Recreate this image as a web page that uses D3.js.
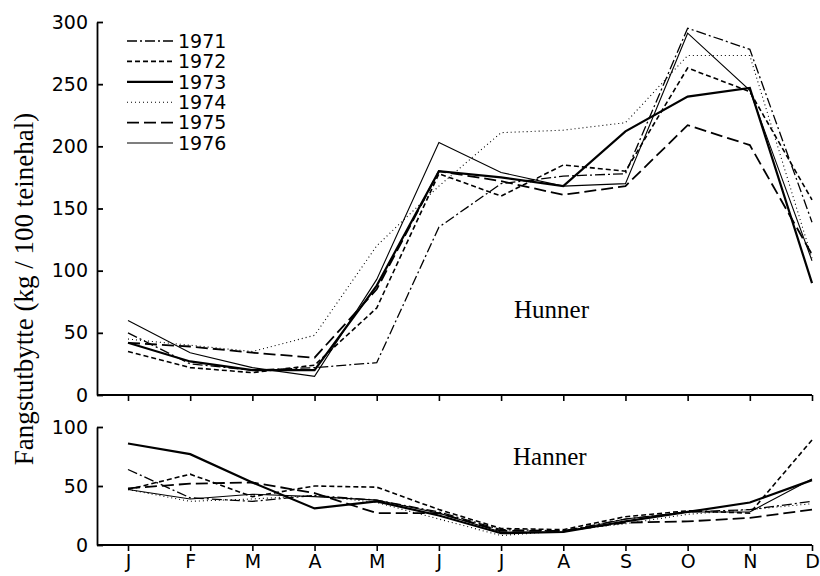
<!DOCTYPE html>
<html>
<head>
<meta charset="utf-8">
<script src="https://cdn.jsdelivr.net/npm/d3@7"></script>
<style>
  body { margin: 0; background: #fff; }
  svg { display: block; }
  .tick text { font-family: 'DejaVu Sans', sans-serif; font-size: 19px; fill: #000; }
</style>
</head>
<body>
<div id="chart"></div>
<script>
const w = 820,
      h = 576;

// months (index used for the scale, labels for the ticks)
const months = ['J', 'F', 'M', 'A', 'M', 'J', 'J', 'A', 'S', 'O', 'N', 'D'];
const years = ['1971', '1972', '1973', '1974', '1975', '1976'];

// Hunner (females), kg / 100 pots
const hunner1971 = [50, 25, 20, 22, 26, 135, 170, 176, 178, 295, 278, 139];
const hunner1972 = [35, 22, 18, 24, 70, 178, 160, 185, 180, 263, 244, 157];
const hunner1973 = [42, 27, 20, 20, 88, 180, 175, 168, 212, 240, 247, 90];
const hunner1974 = [45, 40, 35, 48, 120, 168, 211, 213, 219, 273, 273, 110];
const hunner1975 = [42, 39, 34, 30, 85, 180, 172, 161, 168, 217, 201, 113];
const hunner1976 = [60, 34, 22, 15, 93, 203, 179, 168, 170, 291, 245, 108];

// Hanner (males)
const hanner1971 = [64, 40, 37, 42, 38, 28, 13, 12, 22, 28, 30, 37];
const hanner1972 = [47, 60, 41, 50, 49, 30, 14, 13, 24, 29, 27, 89];
const hanner1973 = [86, 77, 53, 31, 37, 25, 10, 11, 20, 28, 36, 55];
const hanner1974 = [47, 37, 39, 42, 36, 22, 8, 12, 18, 26, 30, 35];
const hanner1975 = [48, 52, 53, 44, 27, 27, 12, 12, 19, 20, 23, 30];
const hanner1976 = [47, 39, 43, 41, 38, 27, 11, 11, 22, 28, 28, 56];

const topTicks = [0, 50, 100, 150, 200, 250, 300];
const bottomTicks = [0, 50, 100];

// line styles per year
const styles = [
  { width: 1.3, dash: '10,3,2,3' },
  { width: 1.6, dash: '5,3' },
  { width: 2.2, dash: null },
  { width: 1.1, dash: '1,3' },
  { width: 1.8, dash: '12,5' },
  { width: 1.1, dash: null }
];

const hunner = [hunner1971, hunner1972, hunner1973, hunner1974, hunner1975, hunner1976];
const hanner = [hanner1971, hanner1972, hanner1973, hanner1974, hanner1975, hanner1976];

const svg = d3.select('#chart')
  .append('svg')
  .attr('width', w)
  .attr('height', h);

const axisX = 97;

const x = d3.scalePoint()
  .domain(d3.range(12))
  .range([128, 812]);

const yTop = d3.scaleLinear().domain([0, 300]).range([395, 22]);
const yBot = d3.scaleLinear().domain([0, 100]).range([545, 427]);

function drawPanel(yScale, ticks, series, showLabels) {
  const yAxis = d3.axisLeft(yScale)
    .tickValues(ticks)
    .tickSize(-6)
    .tickSizeOuter(0)
    .tickPadding(9);

  const gy = svg.append('g')
    .attr('transform', `translate(${axisX}, 0)`)
    .call(yAxis);
  gy.selectAll('path, line').attr('stroke', '#000').attr('stroke-width', 1.8);

  const xAxis = d3.axisBottom(x)
    .tickSize(6)
    .tickSizeOuter(0)
    .tickPadding(4)
    .tickFormat(i => showLabels ? months[i] : '');

  const gx = svg.append('g')
    .attr('transform', `translate(0, ${yScale(0)})`)
    .call(xAxis);
  gx.select('.domain').remove();
  gx.selectAll('line').attr('stroke', '#000').attr('stroke-width', 1.6);
  gx.append('line')
    .attr('x1', axisX)
    .attr('x2', x(11))
    .attr('stroke', '#000')
    .attr('stroke-width', 1.8);

  const line = d3.line()
    .x((d, i) => x(i))
    .y(d => yScale(d));

  svg.append('g')
    .selectAll('path')
    .data(series)
    .enter()
    .append('path')
    .attr('d', line)
    .attr('fill', 'none')
    .attr('stroke', '#000')
    .attr('stroke-width', (d, i) => styles[i].width)
    .attr('stroke-dasharray', (d, i) => styles[i].dash);
}

drawPanel(yTop, topTicks, hunner, false);
drawPanel(yBot, bottomTicks, hanner, true);

// legend
const legend = svg.append('g')
  .selectAll('g')
  .data(years)
  .enter()
  .append('g')
  .attr('transform', (d, i) => `translate(127, ${41 + i * 20.4})`);

legend.append('line')
  .attr('x1', 0)
  .attr('x2', 46)
  .attr('stroke', '#000')
  .attr('stroke-width', (d, i) => styles[i].width)
  .attr('stroke-dasharray', (d, i) => styles[i].dash);

legend.append('text')
  .attr('x', 51)
  .attr('dy', '0.36em')
  .style('font-family', "'DejaVu Sans', sans-serif")
  .style('font-size', '19px')
  .text(d => d);

// panel labels
svg.append('text')
  .attr('x', 514)
  .attr('y', 318)
  .style('font-family', "'Liberation Serif', serif")
  .style('font-size', '25px')
  .text('Hunner');

svg.append('text')
  .attr('x', 513)
  .attr('y', 465)
  .style('font-family', "'Liberation Serif', serif")
  .style('font-size', '25px')
  .text('Hanner');

svg.append('text')
  .attr('transform', 'translate(33, 289) rotate(-90)')
  .attr('text-anchor', 'middle')
  .style('font-family', "'Liberation Serif', serif")
  .style('font-size', '27px')
  .text('Fangstutbytte (kg / 100 teinehal)');
</script>
</body>
</html>
